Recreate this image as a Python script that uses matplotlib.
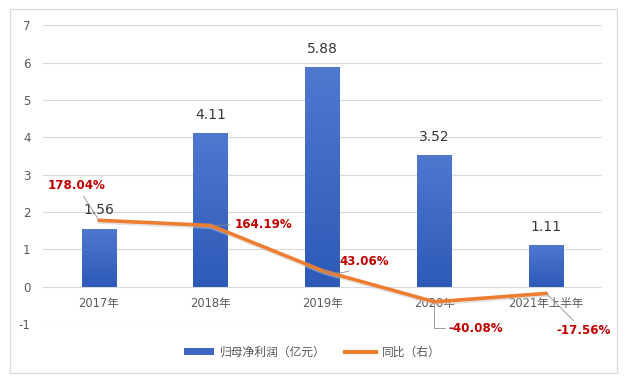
import numpy as np
import matplotlib
matplotlib.use("Agg")
import matplotlib.pyplot as plt
from matplotlib.colors import LinearSegmentedColormap
from matplotlib.patches import Rectangle, Patch
from matplotlib.lines import Line2D
from matplotlib.transforms import ScaledTranslation

plt.rcParams["font.family"] = ["DejaVu Sans", "Noto Sans CJK SC"]
plt.rcParams["axes.unicode_minus"] = False

# 数据
categories = ["2017年", "2018年", "2019年", "2020年", "2021年上半年"]
profit = [1.56, 4.11, 5.88, 3.52, 1.11]          # 归母净利润（亿元）
yoy = [178.04, 164.19, 43.06, -40.08, -17.56]    # 同比（%）
yoy_labels = ["178.04%", "164.19%", "43.06%", "-40.08%", "-17.56%"]

# 标签偏移（points）与引线样式
yoy_offsets = [(-16, 25), (38, 1), (30, 7), (30, -19), (27, -27)]
yoy_conn = ["arc3", "arc3", "arc3,rad=-0.3", "angle,angleA=0,angleB=90,rad=0", "arc3"]

COL_TICK = "#595959"
COL_GRID = "#d9d9d9"
COL_LINE = "#ED7D31"
COL_RED = "#C00000"
COL_LABEL = "#383838"

fig = plt.figure(figsize=(6.24, 3.81), dpi=100)
ax = fig.add_axes([0.069, 0.149, 0.896, 0.785])
x = np.arange(len(categories))

bars = ax.bar(x, profit, width=0.31, color="#3d66c2", zorder=2)
cmap = LinearSegmentedColormap.from_list("g", ["#4f78cf", "#2d5ab8"])
grad = np.linspace(0, 1, 256).reshape(-1, 1)
for b in bars:
    x0, y0 = b.get_x(), b.get_y()
    w, h = b.get_width(), b.get_height()
    im = ax.imshow(grad, cmap=cmap, aspect="auto", zorder=3,
                   extent=[x0, x0 + w, y0, y0 + h], origin="upper")
    im.set_clip_path(b)

for xi, v in zip(x, profit):
    ax.annotate(f"{v:.2f}", (xi, v), xytext=(0, 13), textcoords="offset points",
                ha="center", va="center", fontsize=10, color=COL_LABEL, zorder=4)

ax.set_xlim(-0.5, len(categories) - 0.5)
ax.set_ylim(-1, 7)
ax.set_yticks(range(-1, 8))
ax.grid(axis="y", color=COL_GRID, linewidth=0.8, zorder=0)
ax.set_axisbelow(True)
for s in ax.spines.values():
    s.set_visible(False)
ax.spines["bottom"].set_position(("data", 0))
ax.set_xticks(x)
ax.set_xticklabels(categories)
ax.tick_params(axis="x", length=0, pad=7, labelsize=8.3, labelcolor=COL_TICK)
ax.tick_params(axis="y", length=0, pad=9, labelsize=8.5, labelcolor=COL_TICK)

# 次坐标轴：同比
ax2 = ax.twinx()
ax2.set_ylim(-100, 700)
ax2.axis("off")
shadow = ax2.transData + ScaledTranslation(0.5 / 72, -1 / 72, fig.dpi_scale_trans)
ax2.plot(x, yoy, color="#c8c8c8", linewidth=3.2, alpha=0.5, zorder=1, transform=shadow)
ax2.plot(x, yoy, color=COL_LINE, linewidth=2.6, zorder=2, solid_capstyle="round")

for xi, v, lab, off, cs in zip(x, yoy, yoy_labels, yoy_offsets, yoy_conn):
    ax2.annotate(lab, (xi, v), xytext=off, textcoords="offset points",
                 ha="center", va="center", fontsize=8.6, fontweight="bold",
                 color=COL_RED, zorder=5,
                 arrowprops=dict(arrowstyle="-", color="#8c8c8c", lw=0.6,
                                 shrinkA=1, shrinkB=0, connectionstyle=cs))

handles = [Patch(facecolor="#3d66c2", edgecolor="none"),
           Line2D([], [], color=COL_LINE, linewidth=3)]
leg = fig.legend(handles, ["归母净利润（亿元）", "同比（右）"], loc="center",
                 bbox_to_anchor=(0.5, 0.076), ncol=2, frameon=False,
                 fontsize=8.5, handlelength=2.6, handleheight=0.5,
                 columnspacing=1.6, handletextpad=0.5)
for t in leg.get_texts():
    t.set_color(COL_TICK)

fig.patches.append(Rectangle((10 / 624, 8 / 381), 607 / 624, 364 / 381,
                             transform=fig.transFigure, fill=False,
                             edgecolor="#d9d9d9", linewidth=0.9))

fig.savefig("out.png", dpi=100)
